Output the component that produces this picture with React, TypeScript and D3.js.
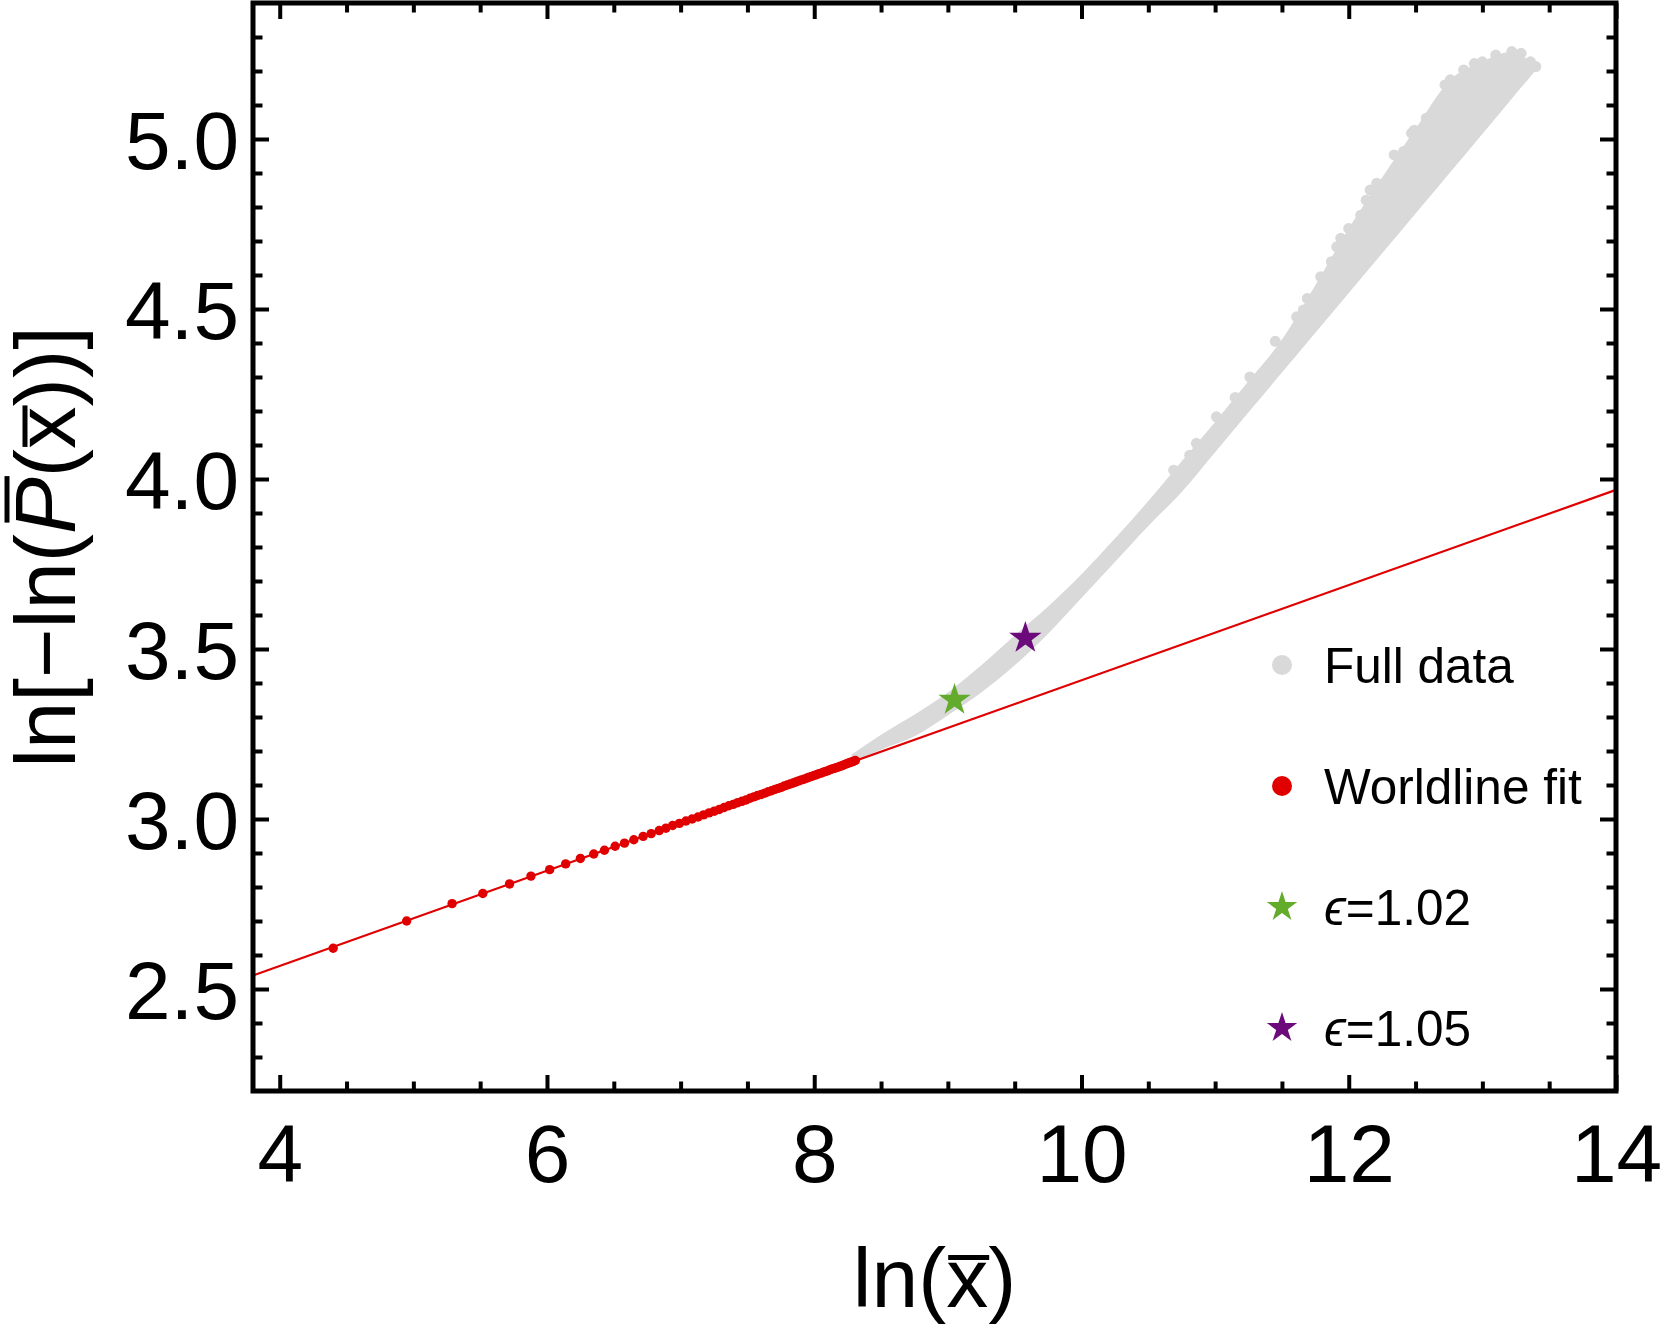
import React, { useEffect, useRef } from "react";
import * as d3 from "d3";

// fitted straight line (two ends)
const fitX = [3.8, 14];
const fitY = [2.54, 3.968];

// red "Worldline fit" points
const worldX = [
  4.4, 4.95, 5.29, 5.52, 5.72, 5.88, 6.02, 6.14, 6.25, 6.35, 6.43, 6.51, 6.58, 6.65, 6.72, 6.78, 6.84, 6.89, 6.94,
  6.991, 7.04, 7.086, 7.13, 7.172, 7.213, 7.252, 7.289, 7.326, 7.361, 7.394, 7.427, 7.459, 7.489, 7.519, 7.548,
  7.576, 7.603, 7.63, 7.656, 7.681, 7.706, 7.73, 7.753, 7.776, 7.798, 7.82, 7.842, 7.863, 7.883, 7.904, 7.923,
  7.943, 7.962, 7.98, 7.999, 8.017, 8.034, 8.052, 8.069, 8.085, 8.102, 8.118, 8.134, 8.15, 8.165, 8.181, 8.196,
  8.21, 8.225, 8.239, 8.253, 8.267, 8.281, 8.295, 8.308,
];
const worldY = [
  2.62, 2.7, 2.751, 2.781, 2.809, 2.832, 2.851, 2.868, 2.884, 2.897, 2.908, 2.92, 2.929, 2.939, 2.949, 2.957, 2.966, 2.973, 2.981,
  2.987, 2.994, 3.0, 3.006, 3.012, 3.018, 3.023, 3.028, 3.034, 3.039, 3.043, 3.048, 3.052, 3.056, 3.061, 3.065,
  3.069, 3.072, 3.076, 3.08, 3.083, 3.087, 3.09, 3.093, 3.097, 3.1, 3.103, 3.106, 3.109, 3.112, 3.115, 3.117,
  3.12, 3.123, 3.125, 3.128, 3.13, 3.133, 3.135, 3.138, 3.14, 3.142, 3.145, 3.147, 3.149, 3.151, 3.153, 3.155,
  3.157, 3.16, 3.162, 3.164, 3.166, 3.168, 3.17, 3.172,
];

// grey "Full data" cloud: lower and upper envelope
const bandX = [8.28, 8.5, 8.77, 9.0, 9.25, 9.5, 9.75, 10.0, 10.25, 10.5, 10.75, 11.0, 11.25, 11.5, 11.75, 12.0, 12.25, 12.5, 12.75, 13.0, 13.2, 13.35, 13.41];
const bandLow = [3.165, 3.204, 3.247, 3.305, 3.372, 3.452, 3.545, 3.65, 3.756, 3.862, 3.962, 4.079, 4.196, 4.313, 4.43, 4.547, 4.664, 4.781, 4.898, 5.015, 5.109, 5.179, 5.207];
const bandHigh = [3.19, 3.248, 3.312, 3.372, 3.452, 3.54, 3.625, 3.72, 3.825, 3.935, 4.052, 4.168, 4.288, 4.41, 4.57, 4.737, 4.887, 5.03, 5.17, 5.227, 5.255, 5.23, 5.207];

// scattered points sticking out of the upper edge
const edgeX = [10.69, 10.81, 10.86, 11.01, 11.15, 11.26, 11.45, 11.61, 11.66, 11.69, 11.79, 11.87, 11.91, 11.94, 12.0, 12.09, 12.13, 12.16, 12.21, 12.34, 12.41, 12.47, 12.49, 12.58, 12.65, 12.72, 12.76, 12.86, 12.94, 13.0, 13.1, 13.22, 13.29, 13.36, 13.4];
const edgeY = [4.026, 4.07, 4.105, 4.183, 4.24, 4.3, 4.405, 4.477, 4.497, 4.531, 4.595, 4.639, 4.683, 4.708, 4.737, 4.776, 4.82, 4.85, 4.87, 4.953, 4.963, 5.017, 5.026, 5.061, 5.09, 5.159, 5.174, 5.203, 5.222, 5.227, 5.247, 5.257, 5.252, 5.227, 5.213];

// epsilon stars
const starX = [9.05, 9.58];
const starY = [3.35, 3.532];
const starEps = ["1.02", "1.05"];

const xTicks = [4, 6, 8, 10, 12, 14];
const xMinor = [4.5, 5, 5.5, 6.5, 7, 7.5, 8.5, 9, 9.5, 10.5, 11, 11.5, 12.5, 13, 13.5];
const yTicks = [2.5, 3.0, 3.5, 4.0, 4.5, 5.0];
const yMinor = [2.3, 2.4, 2.6, 2.7, 2.8, 2.9, 3.1, 3.2, 3.3, 3.4, 3.6, 3.7, 3.8, 3.9, 4.1, 4.2, 4.3, 4.4, 4.6, 4.7, 4.8, 4.9, 5.1, 5.2, 5.3];

const legendNames = ["Full data", "Worldline fit", "\u03f5=1.02", "\u03f5=1.05"];

const GREY = "#d9d9d9";
const RED = "#e00000";
const GREEN = "#62ab2b";
const PURPLE = "#6c0a7c";
const FONT = "'Liberation Sans', Arial, Helvetica, sans-serif";

const App: React.FC = () => {
  const svgRef = useRef<SVGSVGElement | null>(null);

  useEffect(() => {
    if (!svgRef.current) return;
    const svg = d3.select(svgRef.current);
    svg.selectAll("*").remove();

    const width = 1666;
    const height = 1333;
    svg.attr("width", width).attr("height", height);

    const x = d3.scaleLinear().domain([3.8, 14]).range([253, 1616]);
    const y = d3.scaleLinear().domain([2.2, 5.4]).range([1091, 3]);
    const [x0, x1] = x.range();
    const [y0, y1] = y.range();

    // grey band
    const band = bandX.map((v, i) => ({ x: v, lo: bandLow[i], hi: bandHigh[i] }));
    svg.append("path")
      .datum(band)
      .attr("d", d3.area<any>().x(d => x(d.x)).y0(d => y(d.lo)).y1(d => y(d.hi)).curve(d3.curveMonotoneX))
      .attr("fill", GREY);
    svg.append("g")
      .selectAll("circle")
      .data(edgeX)
      .join("circle")
      .attr("cx", d => x(d))
      .attr("cy", (d, i) => y(edgeY[i]))
      .attr("r", 5.5)
      .attr("fill", GREY);

    // fit line
    svg.append("path")
      .datum(fitX.map((v, i) => [v, fitY[i]] as [number, number]))
      .attr("d", d3.line().x(d => x(d[0])).y(d => y(d[1])))
      .attr("fill", "none")
      .attr("stroke", RED)
      .attr("stroke-width", 2.2);

    // red points
    svg.append("g")
      .selectAll("circle")
      .data(worldX)
      .join("circle")
      .attr("cx", d => x(d))
      .attr("cy", (d, i) => y(worldY[i]))
      .attr("r", 4.7)
      .attr("fill", RED);

    // stars
    const star = d3.symbol().type(d3.symbolStar).size((17 * 17) / 0.8908);
    svg.append("g")
      .selectAll("path")
      .data(starX)
      .join("path")
      .attr("d", star() as string)
      .attr("transform", (d, i) => `translate(${x(d)},${y(starY[i])})`)
      .attr("fill", (d, i) => (i === 0 ? GREEN : PURPLE));

    // axes (ticks inward on all four sides)
    const styleAxis = (g: d3.Selection<SVGGElement, unknown, null, undefined>) => {
      g.select(".domain").remove();
      g.selectAll("line").attr("stroke", "#000").attr("stroke-width", 4);
      g.attr("font-family", FONT).attr("font-size", 82);
      g.selectAll("text").attr("fill", "#000");
    };

    svg.append("g").attr("transform", `translate(0,${y0})`)
      .call(d3.axisBottom(x).tickValues(xTicks).tickSize(-16).tickPadding(33).tickFormat(d3.format("d")))
      .call(styleAxis);
    svg.append("g").attr("transform", `translate(0,${y0})`)
      .call(d3.axisBottom(x).tickValues(xMinor).tickSize(-9.5).tickFormat(() => ""))
      .call(styleAxis);
    svg.append("g").attr("transform", `translate(0,${y1})`)
      .call(d3.axisTop(x).tickValues(xTicks).tickSize(-16).tickFormat(() => ""))
      .call(styleAxis);
    svg.append("g").attr("transform", `translate(0,${y1})`)
      .call(d3.axisTop(x).tickValues(xMinor).tickSize(-9.5).tickFormat(() => ""))
      .call(styleAxis);

    svg.append("g").attr("transform", `translate(${x0},0)`)
      .call(d3.axisLeft(y).tickValues(yTicks).tickSize(-16).tickPadding(14).tickFormat(d3.format(".1f")))
      .call(styleAxis)
      .selectAll("text").attr("dy", "0.36em");
    svg.append("g").attr("transform", `translate(${x0},0)`)
      .call(d3.axisLeft(y).tickValues(yMinor).tickSize(-9.5).tickFormat(() => ""))
      .call(styleAxis);
    svg.append("g").attr("transform", `translate(${x1},0)`)
      .call(d3.axisRight(y).tickValues(yTicks).tickSize(-16).tickFormat(() => ""))
      .call(styleAxis);
    svg.append("g").attr("transform", `translate(${x1},0)`)
      .call(d3.axisRight(y).tickValues(yMinor).tickSize(-9.5).tickFormat(() => ""))
      .call(styleAxis);

    // frame
    svg.append("rect")
      .attr("x", x0).attr("y", y1)
      .attr("width", x1 - x0).attr("height", y0 - y1)
      .attr("fill", "none").attr("stroke", "#000").attr("stroke-width", 5);

    // x-axis label  ln(x̄)
    const xl = svg.append("text")
      .attr("x", (x0 + x1) / 2).attr("y", 1307)
      .attr("text-anchor", "middle")
      .attr("font-family", FONT).attr("font-size", 84);
    xl.append("tspan").text("ln(");
    xl.append("tspan").text("x");
    xl.append("tspan").text(")");
    const xe = (xl.node() as SVGTextElement).getExtentOfChar(3);
    svg.append("line")
      .attr("x1", xe.x + 2).attr("x2", xe.x + xe.width + 1)
      .attr("y1", 1307 - 49.5).attr("y2", 1307 - 49.5)
      .attr("stroke", "#000").attr("stroke-width", 5);

    // y-axis label  ln[−ln(P̄(x̄))]
    const yg = svg.append("g").attr("transform", `translate(75,${(y0 + y1) / 2}) rotate(-90)`);
    const yl = yg.append("text")
      .attr("x", 0).attr("y", 0)
      .attr("text-anchor", "middle")
      .attr("font-family", FONT).attr("font-size", 85);
    yl.append("tspan").text("ln[\u2212ln(");
    yl.append("tspan").attr("font-style", "italic").text("P");
    yl.append("tspan").text("(");
    yl.append("tspan").text("x");
    yl.append("tspan").text("))]");
    const ytext = yl.node() as SVGTextElement;
    const pe = ytext.getExtentOfChar(7);
    const ye = ytext.getExtentOfChar(9);
    yg.append("line")
      .attr("x1", pe.x + pe.width * 0.2).attr("x2", pe.x + pe.width * 1.02)
      .attr("y1", -68).attr("y2", -68)
      .attr("stroke", "#000").attr("stroke-width", 5);
    yg.append("line")
      .attr("x1", ye.x + 2).attr("x2", ye.x + ye.width + 1)
      .attr("y1", -50).attr("y2", -50)
      .attr("stroke", "#000").attr("stroke-width", 5);

    // legend
    const lg = svg.append("g").attr("font-family", FONT).attr("font-size", 49.5);
    legendNames.forEach((name, i) => {
      const cy = 665 + i * 121;
      if (i < 2) {
        lg.append("circle").attr("cx", 1282).attr("cy", cy).attr("r", 10).attr("fill", i === 0 ? GREY : RED);
      } else {
        lg.append("path")
          .attr("d", d3.symbol().type(d3.symbolStar).size((16 * 16) / 0.8908)() as string)
          .attr("transform", `translate(1282,${cy})`)
          .attr("fill", i === 2 ? GREEN : PURPLE);
      }
      const t = lg.append("text").attr("x", 1324).attr("y", cy + 17.5);
      if (i < 2) {
        t.text(name);
      } else {
        t.append("tspan").attr("font-style", "italic").text("\u03f5");
        t.append("tspan").text("=" + starEps[i - 2]);
      }
    });
  }, []);

  return (
    <div style={{ position: "absolute", left: 0, top: 0 }}>
      <svg ref={svgRef}></svg>
    </div>
  );
};

export default App;
